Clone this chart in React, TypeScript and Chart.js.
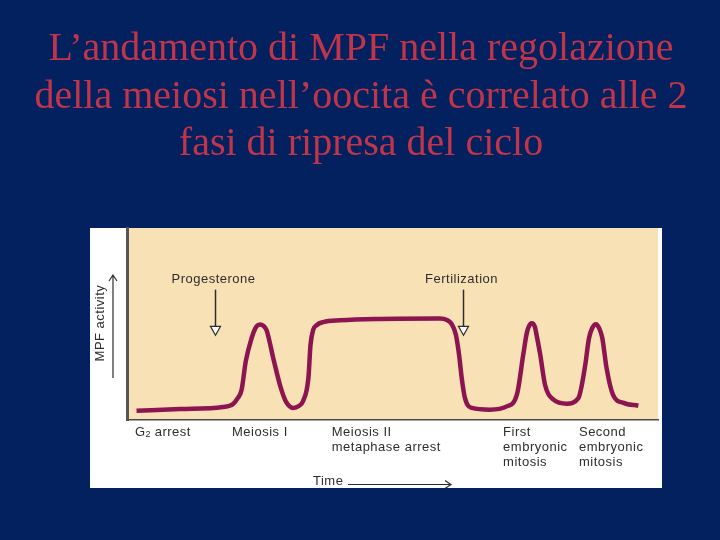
import React, { useEffect, useRef } from "react";
import { Chart, registerables } from "chart.js";

Chart.register(...registerables);

// ---- data ----
const titleLines = [
  "L\u2019andamento di MPF nella regolazione",
  "della meiosi nell\u2019oocita \u00e8 correlato alle 2",
  "fasi di ripresa del ciclo",
];

// time (arbitrary units 0-100) and MPF activity (arbitrary units 0-100)
const timeValues = [
  1.7, 9.9, 18.0, 19.9, 20.8, 21.5, 22.3, 23.4, 24.03, 24.5, 25.03, 25.54, 26.2, 27.6, 28.9, 29.9,
  31.2, 32.3, 33.1, 34.1, 34.5, 35.0, 35.7, 36.9, 40.1, 47.6, 58.9, 60.2, 61.1, 61.9, 62.5, 63.0,
  63.6, 64.9, 68.3, 71.5, 73.4, 74.6, 75.2, 75.6, 76.2, 76.8, 77.1, 77.8, 78.7, 80.3, 82.8, 85.0,
  86.2, 87.0, 87.6, 88.3, 88.9, 89.5, 90.3, 91.5, 93.5, 96.3,
];
const mpfValues = [
  4.8, 5.7, 6.8, 8.3, 11.5, 15.6, 30.7, 42.7, 47.4, 49.3, 49.8, 49.2, 46.9, 30.7, 16.7, 9.4,
  6.3, 7.3, 9.9, 21.9, 39.2, 46.9, 49.5, 51.0, 51.9, 52.6, 52.8, 52.1, 50.0, 44.4, 34.0, 21.9,
  11.5, 6.3, 5.4, 7.1, 13.2, 34.0, 44.4, 48.4, 50.4, 48.4, 44.4, 34.0, 18.4, 10.6, 8.5, 11.5,
  27.1, 42.7, 47.9, 49.9, 47.9, 42.7, 27.1, 13.2, 8.9, 7.4,
];

// stage labels under the time axis (x = left edge in time units)
const stageLabels = [
  ["G\u2082 arrest"],
  ["Meiosis I"],
  ["Meiosis II", "metaphase arrest"],
  ["First", "embryonic", "mitosis"],
  ["Second", "embryonic", "mitosis"],
];
const stageX = [1.4, 19.7, 38.5, 70.8, 85.1];

// event arrows
const eventLabels = ["Progesterone", "Fertilization"];
const eventX = [16.4, 63.2];
const eventTopY = 67.9;
const eventTipY = 44.1;
const eventLabelY = 73.1;

const yAxisTitle = "MPF activity";
const xAxisTitle = "Time";

const NAVY = "#03205f";
const TITLE_RED = "#c0354a";
const LINE = "#8c1450";
const BEIGE = "#f9e1b6";
const INK = "#2e2e2e";
const FONT = "'Liberation Sans', Arial, sans-serif";
const SERIF = "'Liberation Serif', 'Times New Roman', serif";

const decorPlugin = {
  id: "decor",
  beforeDraw(chart: any) {
    const { ctx, chartArea } = chart;
    ctx.save();
    ctx.fillStyle = NAVY;
    ctx.fillRect(0, 0, chart.width, chart.height);
    // title
    ctx.fillStyle = TITLE_RED;
    ctx.font = `40px ${SERIF}`;
    ctx.textAlign = "center";
    ctx.textBaseline = "alphabetic";
    titleLines.forEach((line, i) => {
      ctx.fillText(line, 361, 60 + i * 47.5);
    });
    // white panel
    ctx.fillStyle = "#ffffff";
    ctx.fillRect(90, chartArea.top, 572, 260);
    // beige plot area
    ctx.fillStyle = BEIGE;
    ctx.fillRect(chartArea.left, chartArea.top, chartArea.right - chartArea.left, chartArea.bottom - chartArea.top);
    ctx.restore();
  },
  afterDraw(chart: any) {
    const { ctx, chartArea, scales } = chart;
    const xs = scales.x;
    const ys = scales.y;
    ctx.save();
    ctx.fillStyle = INK;
    ctx.strokeStyle = INK;
    ctx.font = `13px ${FONT}`;
    (ctx as any).letterSpacing = "0.5px";
    ctx.textBaseline = "middle";
    ctx.textAlign = "left";

    // stage labels
    stageLabels.forEach((lines, i) => {
      const x = xs.getPixelForValue(stageX[i]);
      lines.forEach((line, j) => {
        const y = chartArea.bottom + 12 + j * 15;
        if (line.startsWith("G\u2082")) {
          ctx.fillText("G", x, y);
          const gw = ctx.measureText("G").width;
          ctx.font = `9px ${FONT}`;
          ctx.fillText("2", x + gw, y + 3);
          ctx.font = `13px ${FONT}`;
          ctx.fillText(" arrest", x + gw + 5, y);
        } else {
          ctx.fillText(line, x, y);
        }
      });
    });

    // event arrows
    ctx.textAlign = "center";
    eventLabels.forEach((lab, i) => {
      const x = Math.round(xs.getPixelForValue(eventX[i])) + 0.5;
      ctx.fillText(lab, x - 2, ys.getPixelForValue(eventLabelY));
      const y0 = ys.getPixelForValue(eventTopY);
      const yt = ys.getPixelForValue(eventTipY);
      ctx.lineWidth = 1.5;
      ctx.beginPath();
      ctx.moveTo(x, y0);
      ctx.lineTo(x, yt - 8);
      ctx.stroke();
      ctx.beginPath();
      ctx.moveTo(x - 5, yt - 9);
      ctx.lineTo(x + 5, yt - 9);
      ctx.lineTo(x, yt);
      ctx.closePath();
      ctx.fillStyle = "#ffffff";
      ctx.fill();
      ctx.lineWidth = 1.2;
      ctx.stroke();
      ctx.fillStyle = INK;
    });

    // y axis title with arrow
    const ay0 = ys.getPixelForValue(21.9);
    const ay1 = ys.getPixelForValue(75.5);
    const ax = chartArea.left - 14.5;
    ctx.lineWidth = 1.2;
    ctx.beginPath();
    ctx.moveTo(ax, ay0);
    ctx.lineTo(ax, ay1);
    ctx.moveTo(ax - 4, ay1 + 6);
    ctx.lineTo(ax, ay1);
    ctx.lineTo(ax + 4, ay1 + 6);
    ctx.stroke();
    ctx.save();
    ctx.translate(chartArea.left - 27, ys.getPixelForValue(50.5));
    ctx.rotate(-Math.PI / 2);
    ctx.textAlign = "center";
    ctx.fillText(yAxisTitle, 0, 0);
    ctx.restore();

    // time arrow
    const ty = chartArea.bottom + 61;
    ctx.textAlign = "left";
    ctx.fillText(xAxisTitle, 313, ty);
    ctx.lineWidth = 1.2;
    ctx.beginPath();
    ctx.moveTo(348, ty + 3.5);
    ctx.lineTo(451, ty + 3.5);
    ctx.moveTo(445, ty - 0.5);
    ctx.lineTo(451, ty + 3.5);
    ctx.lineTo(445, ty + 7.5);
    ctx.stroke();
    ctx.restore();
  },
};

export default function App() {
  const ref = useRef<HTMLCanvasElement>(null);
  useEffect(() => {
    if (!ref.current) return;
    const chart = new Chart(ref.current, {
      type: "line",
      data: {
        datasets: [
          {
            data: timeValues.map((t, i) => ({ x: t, y: mpfValues[i] })),
            borderColor: LINE,
            borderWidth: 4.5,
            pointRadius: 0,
            cubicInterpolationMode: "monotone",
            fill: false,
          },
        ],
      },
      options: {
        animation: false,
        responsive: false,
        devicePixelRatio: 1,
        layout: { padding: { top: 228, left: 127.5, right: 62, bottom: 120 } },
        plugins: {
          legend: { display: false },
          tooltip: { enabled: false },
          title: { display: false },
        },
        scales: {
          x: {
            type: "linear",
            min: 0,
            max: 100,
            ticks: { display: false },
            grid: { display: false, drawTicks: false },
            border: { display: true, color: "#4a4a4a", width: 1.5 },
          },
          y: {
            type: "linear",
            min: 0,
            max: 100,
            ticks: { display: false },
            grid: { display: false, drawTicks: false },
            border: { display: true, color: "#555555", width: 3 },
          },
        },
      },
      plugins: [decorPlugin],
    });
    return () => chart.destroy();
  }, []);
  return (
    <div style={{ position: "fixed", left: 0, top: 0, width: 720, height: 540, background: NAVY }}>
      <canvas ref={ref} width={720} height={540} style={{ display: "block", width: 720, height: 540 }} />
    </div>
  );
}
